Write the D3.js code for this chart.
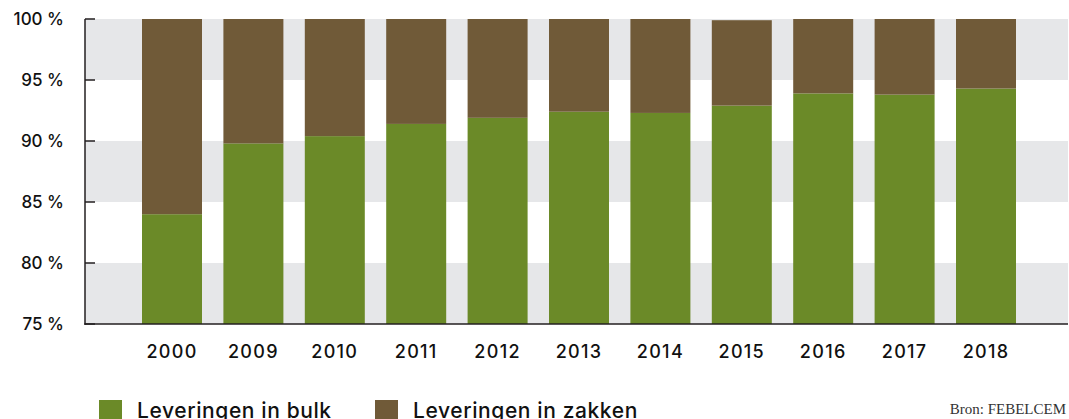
<!DOCTYPE html>
<html>
<head>
<meta charset="utf-8">
<script src="https://cdn.jsdelivr.net/npm/d3@7"></script>
<style>
  body { margin: 0; background: #fff; }
  svg { display: block; }
</style>
</head>
<body>
<div id="chart"></div>
<script>
// data
var years = ["2000", "2009", "2010", "2011", "2012", "2013", "2014", "2015", "2016", "2017", "2018"];
var bulk = [84.0, 89.8, 90.4, 91.4, 91.9, 92.4, 92.3, 92.9, 93.9, 93.8, 94.3];
var zakken = [16.0, 10.2, 9.6, 8.6, 8.1, 7.6, 7.7, 7.0, 6.1, 6.2, 5.7];
var yTicks = [75, 80, 85, 90, 95, 100];
var seriesNames = ["Leveringen in bulk", "Leveringen in zakken"];
var colors = ["#6b8a28", "#705a38"];

var width = 1069, height = 419;
var plot = {left: 85, right: 1068, top: 19, bottom: 324};

var svg = d3.select("#chart")
  .append("svg")
  .attr("width", width)
  .attr("height", height);

var x = d3.scaleBand()
  .domain(years)
  .range([142, 1016])
  .paddingInner(0.263)
  .paddingOuter(0);

var y = d3.scaleLinear()
  .domain([75, 100])
  .range([plot.bottom, plot.top]);

// alternating grey bands
var bands = [[95, 100], [85, 90], [75, 80]];
svg.append("g")
  .selectAll("rect")
  .data(bands)
  .enter().append("rect")
  .attr("x", plot.left)
  .attr("width", plot.right - plot.left)
  .attr("y", function(d) { return y(d[1]); })
  .attr("height", function(d) { return y(d[0]) - y(d[1]); })
  .attr("fill", "#e6e7e9");

// stacked bars
var rows = years.map(function(yr, i) { return {year: yr, bulk: bulk[i], zakken: zakken[i]}; });
var stacked = d3.stack().keys(["bulk", "zakken"])(rows);

svg.append("g")
  .selectAll("g")
  .data(stacked)
  .enter().append("g")
  .attr("fill", function(d, i) { return colors[i]; })
  .selectAll("rect")
  .data(function(d) { return d; })
  .enter().append("rect")
  .attr("x", function(d) { return x(d.data.year); })
  .attr("width", x.bandwidth())
  .attr("y", function(d) { return y(Math.min(d[1], 100)); })
  .attr("height", function(d) {
    var lo = d[0] === 0 ? 75 : d[0];
    return y(lo) - y(Math.min(d[1], 100));
  });

// axes lines
var ink = "#231f20";
svg.append("line")
  .attr("x1", plot.left).attr("x2", plot.left)
  .attr("y1", plot.top).attr("y2", plot.bottom + 0.75)
  .attr("stroke", ink).attr("stroke-width", 1.5);
svg.append("line")
  .attr("x1", plot.left - 0.75).attr("x2", plot.right)
  .attr("y1", plot.bottom).attr("y2", plot.bottom)
  .attr("stroke", ink).attr("stroke-width", 1.5);

// y ticks (inward) and labels
var yg = svg.append("g");
yg.selectAll("line")
  .data(yTicks)
  .enter().append("line")
  .attr("x1", plot.left).attr("x2", plot.left + 10)
  .attr("y1", function(d) { return y(d); })
  .attr("y2", function(d) { return y(d); })
  .attr("stroke", ink).attr("stroke-width", 1.5);
yg.selectAll("text")
  .data(yTicks)
  .enter().append("text")
  .attr("x", 64)
  .attr("y", function(d) { return y(d) + 6; })
  .attr("text-anchor", "end")
  .attr("font-family", "Inter, 'Noto Sans', sans-serif")
  .attr("font-weight", 500)
  .attr("font-size", "17px")
  .attr("fill", "#111")
  .text(function(d) { return d + " %"; });

// x labels
svg.append("g")
  .selectAll("text")
  .data(years)
  .enter().append("text")
  .attr("x", function(d) { return x(d) + x.bandwidth() / 2; })
  .attr("y", 358)
  .attr("text-anchor", "middle")
  .attr("font-family", "Inter, 'Noto Sans', sans-serif")
  .attr("font-weight", 500)
  .attr("font-size", "18px")
  .attr("letter-spacing", "1.3px")
  .attr("fill", "#111")
  .text(function(d) { return d; });

// legend
var legendX = [99, 375];
var lg = svg.append("g")
  .selectAll("g")
  .data(seriesNames)
  .enter().append("g")
  .attr("transform", function(d, i) { return "translate(" + legendX[i] + ",400)"; });
lg.append("rect")
  .attr("width", 23).attr("height", 22)
  .attr("fill", function(d, i) { return colors[i]; });
lg.append("text")
  .attr("x", 38)
  .attr("y", 18)
  .attr("font-family", "Inter, 'Noto Sans', sans-serif")
  .attr("font-weight", 500)
  .attr("font-size", "21px")
  .attr("letter-spacing", "0.6px")
  .attr("fill", "#111")
  .text(function(d) { return d; });

// source
svg.append("text")
  .attr("x", 1066)
  .attr("y", 414)
  .attr("text-anchor", "end")
  .attr("font-family", "'Liberation Serif', serif")
  .attr("font-size", "15px")
  .attr("fill", "#333")
  .text("Bron: FEBELCEM");
</script>
</body>
</html>
